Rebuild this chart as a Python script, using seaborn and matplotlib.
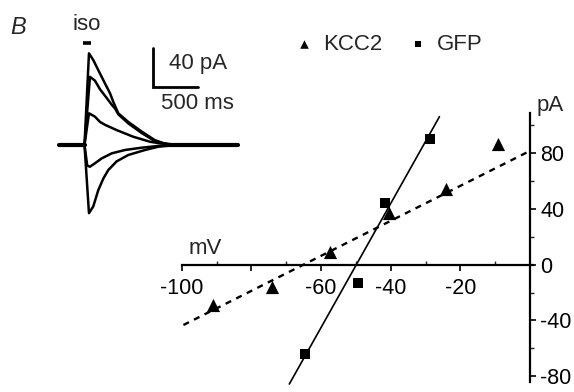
import numpy as np
import pandas as pd
import matplotlib
matplotlib.use("Agg")
import matplotlib.pyplot as plt
import seaborn as sns

# ---------------- data ----------------
# I-V relation (mV, pA)
kcc2_mv = [-91.1, -74.2, -57.4, -40.4, -24.1, -9.3]
kcc2_pa = [-28.9, -15.8, 9.3, 36.9, 54.1, 86.7]
gfp_mv = [-64.6, -49.5, -41.6, -28.7]
gfp_pa = [-64.1, -13.4, 44.1, 90.1]
# fitted lines (end points)
kcc2_fit_mv = [-99.5, -1.0]
kcc2_fit_pa = [-43.3, 80.5]
gfp_fit_mv = [-69.1, -26.0]
gfp_fit_pa = [-85.7, 106.3]

x_ticks = [-100, -80, -60, -40, -20]
x_ticklabels = ["-100", "", "-60", "-40", "-20"]
y_ticks = [-80, -40, 0, 40, 80]
y_ticklabels = ["-80", "-40", "0", "40", "80"]

# inset current traces (ms, pA)
tr1_t = [-276, 0, 49, 96, 151, 225, 279, 315, 370, 480, 626, 772, 863, 1000, 1681]
tr1_i = [0, 0, 95.5, 88.5, 78, 64, 54, 45, 33, 24, 14, 5, 2, 0, 0]
tr2_t = [-276, 0, 60, 115, 170, 243, 298, 334, 370, 480, 626, 772, 880, 1000, 1681]
tr2_i = [0, 0, 71, 67, 58, 49, 42, 38, 32, 22.5, 12.5, 4, 1, 0, 0]
tr3_t = [-276, 0, 49, 115, 170, 225, 353, 534, 717, 827, 1000, 1681]
tr3_i = [0, 0, 33, 29.5, 24, 21, 15.5, 8.6, 3.4, 1.7, 0, 0]
tr4_t = [-276, 0, 30, 60, 115, 188, 298, 444, 626, 808, 1000, 1681]
tr4_i = [0, 0, -21.5, -22.6, -19, -14, -8.7, -5.2, -2.8, -1, 0, 0]
tr5_t = [-276, 0, 49, 96, 151, 206, 261, 353, 480, 663, 808, 1000, 1681]
tr5_i = [0, 0, -71, -64, -47, -35, -26, -17, -10.4, -5.2, -1.8, 0, 0]
traces_t = [tr1_t, tr2_t, tr3_t, tr4_t, tr5_t]
traces_i = [tr1_i, tr2_i, tr3_i, tr4_i, tr5_i]
base_pre_t = [-276, 0]
base_post_t = [880, 1681]
iso_t = [-20, 68]

# ---------------- style ----------------
sns.set_style("white")
plt.rcParams["font.family"] = ["Liberation Sans", "DejaVu Sans"]
plt.rcParams["axes.unicode_minus"] = False

W, H = 574, 392
fig = plt.figure(figsize=(W / 100, H / 100), dpi=100)

# ---------------- main I-V axes ----------------
ax = fig.add_axes([0, 0, 1, 1])
ax.patch.set_alpha(0)
xs, ys = 3.483, 1.3925  # px per unit
ax.set_xlim(-100 - 181.7 / xs, (W - 530) / xs)
ax.set_ylim(-(H - 264.7) / ys, 264.7 / ys)

sns.lineplot(x=gfp_fit_mv, y=gfp_fit_pa, ax=ax, color="black", lw=1.2,
             estimator=None, sort=False)
sns.lineplot(x=kcc2_fit_mv, y=kcc2_fit_pa, ax=ax, color="black", lw=1.7,
             linestyle=(0, (2.6, 2.4)), estimator=None, sort=False)
sns.scatterplot(x=kcc2_mv, y=kcc2_pa, ax=ax, marker="^", s=90, color="black",
                linewidth=0, label="KCC2", zorder=3)
sns.scatterplot(x=gfp_mv, y=gfp_pa, ax=ax, marker="s", s=44, color="black",
                linewidth=0, label="GFP", zorder=3)

for s in ["top", "left"]:
    ax.spines[s].set_visible(False)
ax.spines["bottom"].set_position(("data", 0))
ax.spines["right"].set_position(("data", 0))
ax.spines["bottom"].set_bounds(-100, 1.0)
ax.spines["right"].set_bounds(-84.5, 108.7)
for s in ["bottom", "right"]:
    ax.spines[s].set_color("black")
    ax.spines[s].set_linewidth(1.6)
    ax.spines[s].set_zorder(2)

ax.yaxis.set_ticks_position("right")
ax.xaxis.set_ticks_position("bottom")
ax.set_xticks(x_ticks)
ax.set_xticklabels(x_ticklabels)
ax.set_xticks([-90, -70, -50, -30, -10], minor=True)
ax.set_yticks(y_ticks)
ax.set_yticklabels(y_ticklabels)
ax.set_yticks([-60, -20, 20, 60, 100], minor=True)
ax.tick_params(axis="x", which="major", direction="out", length=4, width=1.2,
               pad=5.5, labelsize=15.5, colors="black")
ax.tick_params(axis="x", which="minor", direction="in", length=3, width=1.0)
ax.tick_params(axis="y", which="major", direction="out", length=4, width=1.2,
               pad=3.5, labelsize=15.5, colors="black")
ax.tick_params(axis="y", which="minor", direction="out", length=3, width=1.0)
ax.grid(False)

leg = ax.legend(loc="center", bbox_to_anchor=(389 / W, 1 - 44 / H),
                bbox_transform=fig.transFigure, ncol=2, frameon=False,
                fontsize=16, markerscale=0.65, handlelength=0.8,
                handletextpad=0.45, columnspacing=1.2)


def ftext(px, py, s, **kw):
    fig.text(px / W, 1 - py / H, s, ha="center", va="center", **kw)


ftext(205, 248, "mV", fontsize=16)
ftext(550, 105, "pA", fontsize=16)

# ---------------- inset traces ----------------
axi = fig.add_axes([0, 0, 1, 1])
axi.patch.set_alpha(0)
tx, iy = 0.0913, 0.96  # px per ms, px per pA
axi.set_xlim(-84.5 / tx, (W - 84.5) / tx)
axi.set_ylim(-(H - 145) / iy, 145 / iy)
axi.axis("off")

for t, i in zip(traces_t, traces_i):
    sns.lineplot(x=t, y=i, ax=axi, color="black", lw=1.8,
                 estimator=None, sort=False)
for bt in [base_pre_t, base_post_t]:
    sns.lineplot(x=bt, y=[0, 0], ax=axi, color="black", lw=3.0,
                 estimator=None, sort=False)
axi.plot(iso_t, [106, 106], color="black", lw=2.6, solid_capstyle="butt")
# scale bar 40 pA / 500 ms
axi.plot([747, 747, 1247], [100.7, 60.7, 60.7], color="black", lw=2.0,
         solid_joinstyle="miter")

ftext(18, 27, "B", fontsize=17, style="italic")
ftext(87, 24, "iso", fontsize=16)
ftext(198, 64, "40 pA", fontsize=16)
ftext(197, 103.5, "500 ms", fontsize=16)

fig.savefig("out.png", dpi=100)
